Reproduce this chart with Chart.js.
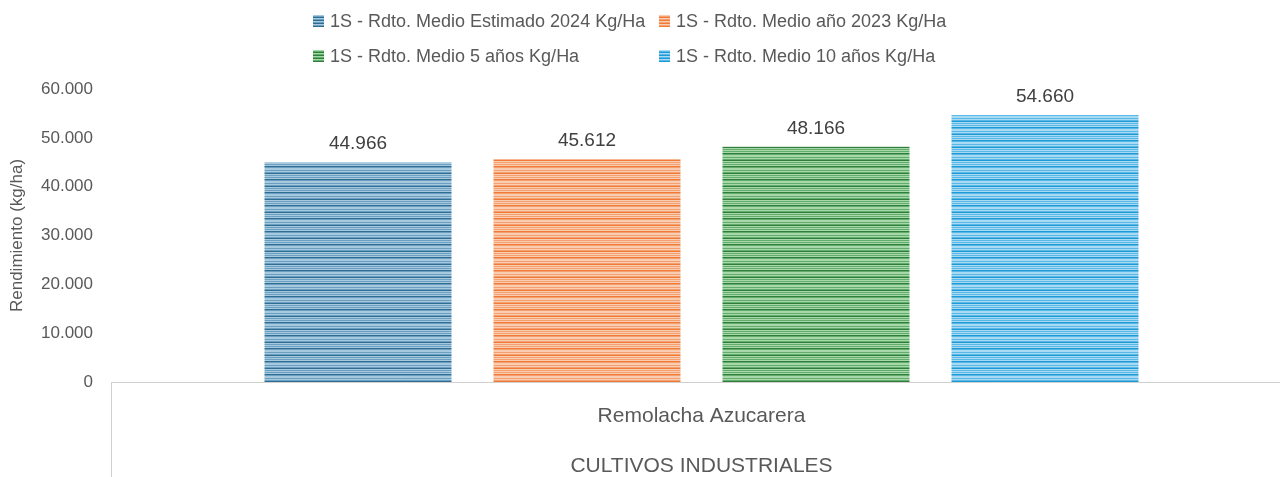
<!DOCTYPE html>
<html>
<head>
<meta charset="utf-8">
<script src="https://cdn.jsdelivr.net/npm/chart.js@4.4.1/dist/chart.umd.min.js"></script>
<style>
  html, body { margin: 0; padding: 0; background: #fff; overflow: hidden; width: 1280px; height: 477px; }
  #wrap { position: absolute; left: 0; top: 0; width: 1292px; height: 477px; }
  #legend { position: absolute; left: 0; top: 0; width: 1280px; height: 80px; font-family: "Liberation Sans", Arial, sans-serif; font-size: 18px; color: #595959; }
  .item { position: absolute; white-space: nowrap; line-height: 22px; }
  .box { position: absolute; width: 11px; height: 12px; top: 5px; left: 0; }
  .txt { position: absolute; left: 17px; top: 0; }
</style>
</head>
<body>
<div id="wrap"><canvas id="c"></canvas></div>
<div id="legend"></div>
<script>
// ---- data ----
const categories = [["Remolacha Azucarera", "CULTIVOS INDUSTRIALES"]];
const seriesLabels = [
  "1S - Rdto. Medio Estimado 2024 Kg/Ha",
  "1S - Rdto. Medio año 2023 Kg/Ha",
  "1S - Rdto. Medio 5 años Kg/Ha",
  "1S - Rdto. Medio 10 años Kg/Ha"
];
const estimado2024 = [44966];
const anio2023 = [45612];
const medio5 = [48166];
const medio10 = [54660];
const yTicks = [0, 10000, 20000, 30000, 40000, 50000, 60000];
const yTitle = "Rendimiento (kg/ha)";

// ---- styles ----
const palettes = [
  { D: '#2f6d92', M: '#6a9fc1', L: '#a6c9de' },
  { D: '#f07a36', M: '#f4a070', L: '#f9cdb2' },
  { D: '#2f7e3b', M: '#62ad6b', L: '#a8d8aa' },
  { D: '#1d9ad6', M: '#5ab8e6', L: '#a8dbf3' }
];
function makePattern(p) {
  const rows = [p.L, p.M, p.L, p.M, p.D, p.L, p.M, p.L, p.M, p.L, p.D, p.M, p.L];
  const cv = document.createElement('canvas');
  cv.width = 4; cv.height = rows.length;
  const cx = cv.getContext('2d');
  rows.forEach((c, i) => { cx.fillStyle = c; cx.fillRect(0, i, 4, 1); });
  return cx.createPattern(cv, 'repeat');
}
function fmt(v) {
  return String(Math.round(v)).replace(/\B(?=(\d{3})+(?!\d))/g, '.');
}

const seriesValues = [estimado2024, anio2023, medio5, medio10];
const datasets = seriesValues.map((vals, i) => ({
  label: seriesLabels[i],
  data: vals,
  backgroundColor: makePattern(palettes[i]),
  borderWidth: 0,
  barPercentage: 0.8166,
  categoryPercentage: 0.7756
}));

// legend (HTML)
const legend = document.getElementById('legend');
const legPos = [[313, 10], [659, 10], [313, 45], [659, 45]];
seriesLabels.forEach((lab, i) => {
  const p = palettes[i];
  const it = document.createElement('div');
  it.className = 'item';
  it.style.left = legPos[i][0] + 'px';
  it.style.top = legPos[i][1] + 'px';
  const b = document.createElement('div');
  b.className = 'box';
  b.style.background = `repeating-linear-gradient(to bottom, ${p.L} 0px, ${p.L} 1px, ${p.M} 1px, ${p.M} 2px, ${p.D} 2px, ${p.D} 3px)`;
  const t = document.createElement('div');
  t.className = 'txt';
  t.textContent = lab;
  it.appendChild(b); it.appendChild(t);
  legend.appendChild(it);
});

const valueLabels = {
  id: 'valueLabels',
  afterDatasetsDraw(chart) {
    const ctx = chart.ctx;
    ctx.save();
    ctx.font = '19px "Liberation Sans", Arial, sans-serif';
    ctx.fillStyle = '#404040';
    ctx.textAlign = 'center';
    ctx.textBaseline = 'bottom';
    chart.data.datasets.forEach((ds, di) => {
      const meta = chart.getDatasetMeta(di);
      meta.data.forEach((el, j) => {
        ctx.fillText(fmt(ds.data[j]), el.x, el.y - 9);
      });
    });
    ctx.restore();
  }
};
const groupLine = {
  id: 'groupLine',
  afterDraw(chart) {
    const ctx = chart.ctx;
    const a = chart.chartArea;
    ctx.save();
    ctx.strokeStyle = '#d0d0d0';
    ctx.lineWidth = 1;
    ctx.beginPath();
    ctx.moveTo(a.left + 0.5, a.bottom);
    ctx.lineTo(a.left + 0.5, chart.height);
    ctx.stroke();
    ctx.restore();
  }
};

new Chart(document.getElementById('c'), {
  type: 'bar',
  data: { labels: categories, datasets },
  plugins: [valueLabels, groupLine],
  options: {
    responsive: true,
    maintainAspectRatio: false,
    animation: false,
    layout: { padding: { top: 89, left: 0, right: 0, bottom: 0 } },
    plugins: { legend: { display: false }, tooltip: { enabled: false } },
    scales: {
      x: {
        grid: { display: false, drawTicks: false },
        border: { display: true, color: '#d0d0d0', width: 1 },
        ticks: {
          color: '#595959',
          font: { family: '"Liberation Sans", Arial, sans-serif', size: 21, lineHeight: 2.4 },
          padding: 9,
          maxRotation: 0
        },
        afterFit(s) { s.height = 95; }
      },
      y: {
        min: 0, max: 60000,
        afterBuildTicks(s) { s.ticks = yTicks.map(v => ({ value: v })); },
        grid: { display: false, drawTicks: false },
        border: { display: false },
        ticks: {
          color: '#595959',
          font: { family: '"Liberation Sans", Arial, sans-serif', size: 17 },
          padding: 18,
          callback: v => fmt(v)
        },
        title: {
          display: true, text: yTitle, color: '#595959',
          font: { family: '"Liberation Sans", Arial, sans-serif', size: 17 },
          padding: { top: 7, bottom: 0 }
        },
        afterFit(s) { s.width = 111; }
      }
    }
  }
});
</script>
</body>
</html>
